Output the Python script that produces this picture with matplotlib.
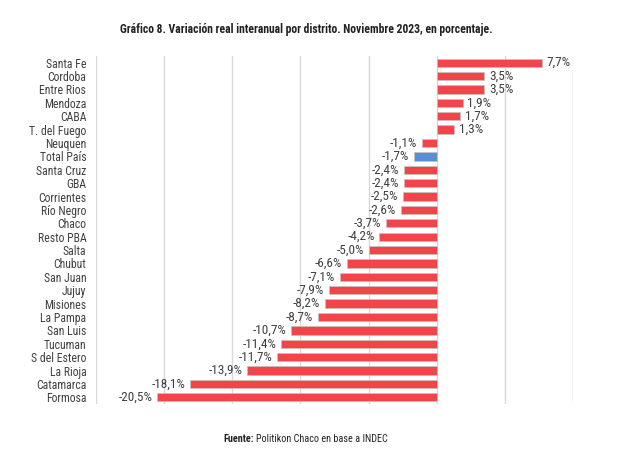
import matplotlib
matplotlib.use('Agg')

import matplotlib.pyplot as plt
from matplotlib import font_manager

distritos = ["Santa Fe", "Cordoba", "Entre Rios", "Mendoza", "CABA", "T. del Fuego",
             "Neuquen", "Total País", "Santa Cruz", "GBA", "Corrientes", "Río Negro",
             "Chaco", "Resto PBA", "Salta", "Chubut", "San Juan", "Jujuy", "Misiones",
             "La Pampa", "San Luis", "Tucuman", "S del Estero", "La Rioja", "Catamarca",
             "Formosa"]
variacion = [7.7, 3.5, 3.5, 1.9, 1.7, 1.3, -1.1, -1.7, -2.4, -2.4, -2.5, -2.6, -3.7,
             -4.2, -5.0, -6.6, -7.1, -7.9, -8.2, -8.7, -10.7, -11.4, -11.7, -13.9,
             -18.1, -20.5]
ticks_x = [-25, -20, -15, -10, -5, 0, 5, 10]

# pick a narrow family if one is installed
names = {f.name for f in font_manager.fontManager.ttflist}
fam = "DejaVu Sans"
for cand in ["Roboto Condensed", "Liberation Sans Narrow", "Open Sans Condensed",
             "DejaVu Sans Condensed", "Lato", "Roboto"]:
    if cand in names:
        fam = cand
        break
plt.rcParams['font.family'] = [fam, 'DejaVu Sans']

RED = "#F2454A"
BLUE = "#5B8DD3"
TXT = "#404040"

fig = plt.figure(figsize=(6.44, 4.54), dpi=100)
ax = fig.add_axes([96 / 644, 1 - 404 / 454, (573 - 96) / 644, (404 - 56) / 454])

ypos = list(range(len(distritos)))
colors = [BLUE if d == "Total País" else RED for d in distritos]
ax.barh(ypos, variacion, height=0.62, color=colors, edgecolor="#C4C4C4",
        linewidth=0.5, zorder=3)

for y, v in zip(ypos, variacion):
    txt = f"{v:.1f}%".replace(".", ",")
    if v >= 0:
        ax.text(v + 0.35, y, txt, ha="left", va="center", fontsize=9.5, color=TXT)
    else:
        ax.text(v - 0.35, y, txt, ha="right", va="center", fontsize=9.5, color=TXT)

ax.set_xlim(-25, 10)
ax.set_ylim(len(distritos) - 0.5, -0.5)
ax.set_xticks(ticks_x)
ax.set_xticklabels([])
ax.tick_params(axis="x", length=0)
ax.set_yticks(ypos)
ax.set_yticklabels(distritos, fontsize=8.5, color=TXT)
ax.tick_params(axis="y", length=0, pad=7)
ax.set_axisbelow(True)
ax.grid(axis="x", color="#D9D9D9", linewidth=1)
for s in ax.spines.values():
    s.set_visible(False)

fig.text(120 / 644, 1 - 29 / 454, "Gráfico 8. Variación real interanual por distrito. Noviembre 2023, en porcentaje.",
         ha="left", va="center", fontsize=8.4, fontweight="bold", color="#222222")

# source line: bold "Fuente:" then the rest right after it
t1 = fig.text(223 / 644, 1 - 439 / 454, "Fuente:", ha="left", va="center", fontsize=7.3,
              fontweight="bold", color="#222222")
ax.annotate("Politikon Chaco en base a INDEC", xy=(1, 0.5), xycoords=t1,
            xytext=(2, 0), textcoords="offset points", ha="left", va="center",
            fontsize=7.3, color="#222222", annotation_clip=False)

fig.savefig("out.png", dpi=100)
